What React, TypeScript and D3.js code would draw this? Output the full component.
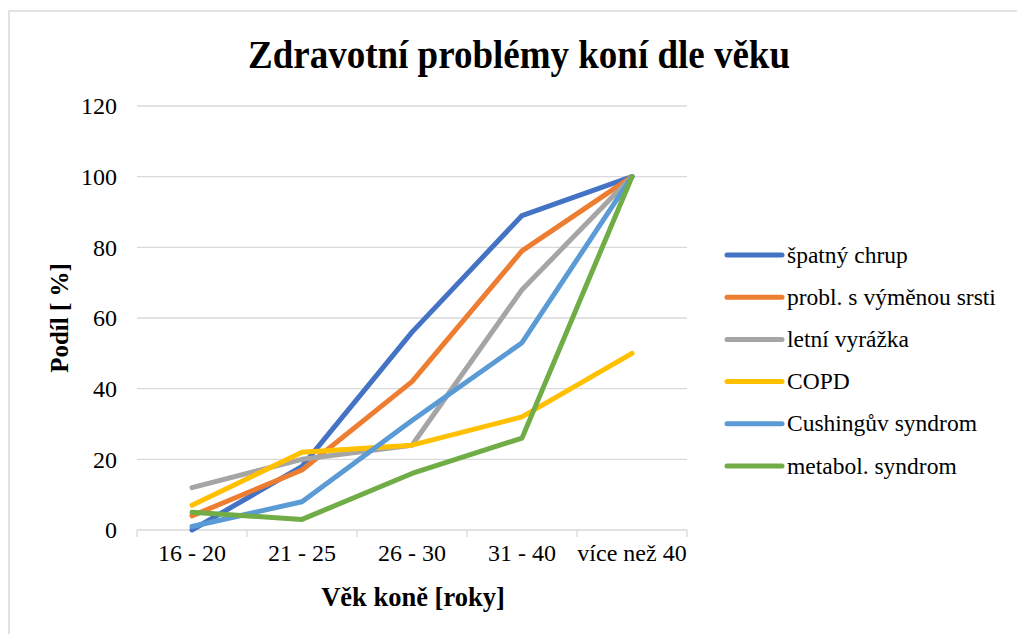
import React from "react";
import * as d3 from "d3";

const categories = ["16 - 20", "21 - 25", "26 - 30", "31 - 40", "více než 40"];
const seriesNames = ["špatný chrup", "probl. s výměnou srsti", "letní vyrážka", "COPD", "Cushingův syndrom", "metabol. syndrom"];
const seriesColors = ["#4472C4", "#ED7D31", "#A5A5A5", "#FFC000", "#5B9BD5", "#70AD47"];
const spatnyChrup = [0, 18, 56, 89, 100];
const vymenaSrsti = [4, 17, 42, 79, 100];
const letniVyrazka = [12, 20, 24, 68, 100];
const copd = [7, 22, 24, 32, 50];
const cushing = [1, 8, 31, 53, 100];
const metabol = [5, 3, 16, 26, 100];
const seriesValues = [spatnyChrup, vymenaSrsti, letniVyrazka, copd, cushing, metabol];
const yTicks = [0, 20, 40, 60, 80, 100, 120];

const W = 1017, H = 634;
const plot = { left: 137, right: 687, top: 106, bottom: 530 };
const FONT = "'Liberation Serif', 'Times New Roman', serif";

export default function App() {
  const x = d3.scaleBand<string>().domain(categories).range([plot.left, plot.right]).paddingInner(0).paddingOuter(0);
  const y = d3.scaleLinear().domain([0, 120]).range([plot.bottom, plot.top]);
  const line = d3.line<number>()
    .x((_, i) => (x(categories[i]) as number) + x.bandwidth() / 2)
    .y((d) => y(d));
  const boundaries = categories.map((c) => x(c) as number).concat([plot.right]);
  const legendX = 727, legendY0 = 255, legendStep = 42.2;
  return (
    <svg width={W} height={H} style={{ position: "absolute", left: 0, top: 0, fontFamily: FONT }}>
      <rect x={0} y={0} width={W} height={H} fill="#fff" />
      <rect x={9} y={11} width={W + 20} height={H + 20} fill="none" stroke="#d9d9d9" strokeWidth={1.5} />
      <text x={519} y={68} textAnchor="middle" fontSize={40} fontWeight="bold" textLength={542} lengthAdjust="spacingAndGlyphs">
        Zdravotní problémy koní dle věku
      </text>
      {yTicks.map((t) => (
        <g key={t}>
          {t !== 0 && <line x1={plot.left} x2={plot.right} y1={y(t)} y2={y(t)} stroke="#d9d9d9" strokeWidth={1.3} />}
          <text x={117} y={y(t)} dy="0.35em" textAnchor="end" fontSize={24}>{t}</text>
        </g>
      ))}
      <line x1={plot.left} x2={plot.right} y1={y(0)} y2={y(0)} stroke="#d9d9d9" strokeWidth={1.3} />
      {boundaries.map((b, i) => (
        <line key={i} x1={b} x2={b} y1={y(0)} y2={y(0) + 7} stroke="#d9d9d9" strokeWidth={1.3} />
      ))}
      {categories.map((c) => (
        <text key={c} x={(x(c) as number) + x.bandwidth() / 2} y={561} textAnchor="middle" fontSize={24}>{c}</text>
      ))}
      <text x={413} y={606} textAnchor="middle" fontSize={26.5} fontWeight="bold">Věk koně [roky]</text>
      <text transform={`translate(68,${(plot.top + plot.bottom) / 2}) rotate(-90)`} textAnchor="middle" fontSize={25} fontWeight="bold">Podíl [ %]</text>
      {seriesValues.map((vals, i) => (
        <path key={i} d={line(vals) as string} fill="none" stroke={seriesColors[i]} strokeWidth={5} strokeLinejoin="round" strokeLinecap="round" />
      ))}
      {seriesNames.map((n, i) => (
        <g key={n}>
          <line x1={legendX} x2={legendX + 55} y1={legendY0 + i * legendStep} y2={legendY0 + i * legendStep} stroke={seriesColors[i]} strokeWidth={5} strokeLinecap="round" />
          <text x={787} y={legendY0 + i * legendStep} dy="0.32em" fontSize={23.5}>{n}</text>
        </g>
      ))}
    </svg>
  );
}
